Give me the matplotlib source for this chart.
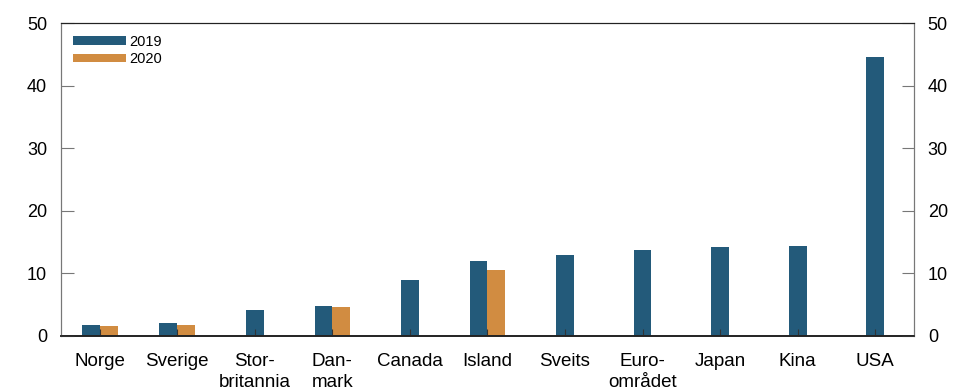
import numpy as np
import matplotlib
matplotlib.use("Agg")
import matplotlib.pyplot as plt

plt.rcParams['font.family'] = ['Liberation Sans', 'DejaVu Sans']

# Kategorier og verdier lest av figuren
categories = ["Norge", "Sverige", "Stor-\nbritannia", "Dan-\nmark", "Canada", "Island",
              "Sveits", "Euro-\nområdet", "Japan", "Kina", "USA"]
values_2019 = [1.75, 2.1, 4.1, 4.8, 9.0, 12.0, 12.9, 13.7, 14.2, 14.4, 44.6]
values_2020 = [1.6, 1.75, np.nan, 4.6, np.nan, 10.5, np.nan, np.nan, np.nan, np.nan, np.nan]
series_labels = ["2019", "2020"]

BLUE = "#235a7a"
ORANGE = "#d18c41"


def main():
    fig, ax = plt.subplots(figsize=(9.62, 3.9), dpi=100)
    fig.subplots_adjust(left=0.0634, right=0.950, top=0.941, bottom=0.1385)

    x = np.arange(len(categories))
    v19 = np.array(values_2019)
    v20 = np.array(values_2020)
    width = 0.23
    has20 = ~np.isnan(v20)

    # 2019-søyler: sentrert hvis det ikke finnes 2020-verdi
    x19 = np.where(has20, x - width / 2, x)
    ax.bar(x19, v19, width=width, color=BLUE, label=series_labels[0], zorder=2)
    ax.bar(x[has20] + width / 2, v20[has20], width=width, color=ORANGE,
           label=series_labels[1], zorder=2)
    ax.set_axisbelow(False)

    ax.set_xlim(-0.5, len(categories) - 0.5)
    ax.set_ylim(0, 50)
    ax.set_yticks(range(0, 51, 10))
    ax.set_xticks(x)
    ax.set_xticklabels(categories, fontsize=13.5, linespacing=1.3)
    ax.tick_params(axis='x', direction='in', length=5, pad=12, color='#333333')
    ax.tick_params(axis='y', direction='in', length=9, labelsize=13, pad=10,
                   color='#777777')

    ax2 = ax.twinx()
    ax2.set_ylim(0, 50)
    ax2.set_yticks(range(0, 51, 10))
    ax2.tick_params(axis='y', direction='in', length=9, labelsize=13, pad=10,
                    color='#777777')

    for a in (ax, ax2):
        a.spines['left'].set_color('#777777')
        a.spines['right'].set_color('#777777')
        a.spines['top'].set_color('#222222')
        a.spines['bottom'].set_color('#222222')
        a.spines['bottom'].set_linewidth(1.2)

    ax.legend(loc='upper left', frameon=False, fontsize=10.5, handlelength=3.65,
              handleheight=0.5, handletextpad=0.2, labelspacing=0.25,
              borderaxespad=0.4, bbox_to_anchor=(0.0, 1.0))

    fig.savefig("out.png", dpi=100)


if __name__ == "__main__":
    main()
